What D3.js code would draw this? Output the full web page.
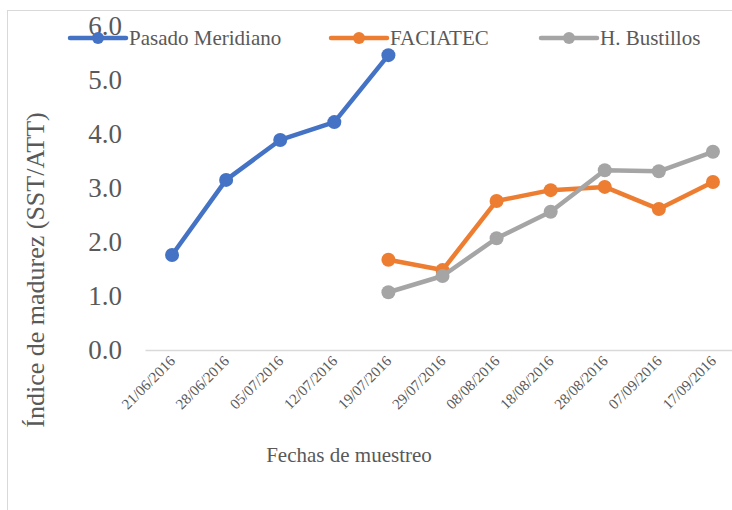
<!DOCTYPE html>
<html>
<head>
<meta charset="utf-8">
<script src="https://cdn.jsdelivr.net/npm/d3@7"></script>
<style>
  body { margin: 0; background: #fff; }
  svg text { font-family: "Liberation Serif", "Times New Roman", serif; fill: #595959; }
</style>
</head>
<body>
<svg width="732" height="510"></svg>
<script>
// dates on the category axis
const fechas = ['21/06/2016', '28/06/2016', '05/07/2016', '12/07/2016', '19/07/2016',
  '29/07/2016', '08/08/2016', '18/08/2016', '28/08/2016', '07/09/2016', '17/09/2016'];

// one value per date, null where the site was not sampled
const pasadoMeridiano = [1.76, 3.15, 3.89, 4.22, 5.46, null, null, null, null, null, null];
const faciatec = [null, null, null, null, 1.67, 1.48, 2.76, 2.96, 3.02, 2.61, 3.11];
const hBustillos = [null, null, null, null, 1.07, 1.37, 2.07, 2.56, 3.33, 3.31, 3.67];

const yTicks = [0, 1, 2, 3, 4, 5, 6];

const seriesNames = ['Pasado Meridiano', 'FACIATEC', 'H. Bustillos'];
const seriesColors = ['#4472C4', '#ED7D31', '#A5A5A5'];

const serif = '"Liberation Serif", "Times New Roman", serif';

const svg = d3.select('svg');
const width = +svg.attr('width');
const height = +svg.attr('height');

const render = () => {
  const series = [pasadoMeridiano, faciatec, hBustillos].map((vals, i) => ({
    name: seriesNames[i],
    color: seriesColors[i],
    values: vals.map((v, j) => ({ fecha: fechas[j], value: v }))
  }));

  // chart area border (only left and top are visible in the picture)
  svg.append('rect')
    .attr('x', 7.5).attr('y', 10.5)
    .attr('width', width + 20).attr('height', height + 20)
    .attr('fill', 'none')
    .attr('stroke', '#d9d9d9');

  const xScale = d3.scaleBand()
    .domain(fechas)
    .range([145, 740]);
  const xCenter = d => xScale(d) + xScale.bandwidth() / 2;

  const yScale = d3.scaleLinear()
    .domain([0, 6])
    .range([350, 26]);

  // y axis, labels only
  const yAxis = d3.axisLeft(yScale)
    .tickValues(yTicks)
    .tickFormat(d3.format('.1f'))
    .tickSize(0)
    .tickPadding(23);
  const yAxisGroup = svg.append('g')
    .attr('transform', 'translate(145,0)')
    .call(yAxis)
    .attr('font-family', serif);
  yAxisGroup.select('.domain').remove();
  yAxisGroup.selectAll('text')
    .attr('font-size', 27)
    .attr('font-family', serif)
    .attr('fill', '#595959');

  // x axis: the zero line plus rotated date labels
  const xAxis = d3.axisBottom(xScale).tickSize(0).tickPadding(0);
  const xAxisGroup = svg.append('g')
    .attr('transform', 'translate(0,350)')
    .call(xAxis)
    .attr('font-family', serif);
  xAxisGroup.select('.domain')
    .attr('stroke', '#d9d9d9')
    .attr('stroke-width', 1.5);
  xAxisGroup.selectAll('.tick text')
    .attr('font-size', 15)
    .attr('font-family', serif)
    .attr('fill', '#595959')
    .attr('text-anchor', 'end')
    .attr('dy', null)
    .attr('y', 0)
    .attr('transform', 'translate(4,12) rotate(-45)');

  // axis titles
  svg.append('text')
    .attr('transform', 'translate(44,270) rotate(-90)')
    .attr('text-anchor', 'middle')
    .attr('font-family', serif)
    .attr('font-size', 26)
    .text('Índice de madurez (SST/ATT)');

  svg.append('text')
    .attr('x', 349)
    .attr('y', 462)
    .attr('text-anchor', 'middle')
    .attr('font-family', serif)
    .attr('font-size', 21)
    .text('Fechas de muestreo');

  // lines + markers
  const line = d3.line()
    .defined(d => d.value !== null)
    .x(d => xCenter(d.fecha))
    .y(d => yScale(d.value));

  series.forEach(s => {
    const g = svg.append('g');
    g.append('path')
      .datum(s.values)
      .attr('d', line)
      .attr('fill', 'none')
      .attr('stroke', s.color)
      .attr('stroke-width', 4.5)
      .attr('stroke-linejoin', 'round');
    g.selectAll('circle')
      .data(s.values.filter(d => d.value !== null))
      .enter().append('circle')
        .attr('cx', d => xCenter(d.fecha))
        .attr('cy', d => yScale(d.value))
        .attr('r', 7)
        .attr('fill', s.color);
  });

  // legend at the top, drawn over the 6.0 label
  const legendX = [70, 331, 541];
  series.forEach((s, i) => {
    const lg = svg.append('g')
      .attr('transform', `translate(${legendX[i]},38)`);
    lg.append('line')
      .attr('x1', 0).attr('x2', 56)
      .attr('stroke', s.color)
      .attr('stroke-width', 4.5)
      .attr('stroke-linecap', 'round');
    lg.append('circle')
      .attr('cx', 28)
      .attr('r', 6)
      .attr('fill', s.color);
    lg.append('text')
      .attr('x', 59)
      .attr('y', 7)
      .attr('font-family', serif)
      .attr('font-size', 21)
      .text(s.name);
  });
};

render();
</script>
</body>
</html>
